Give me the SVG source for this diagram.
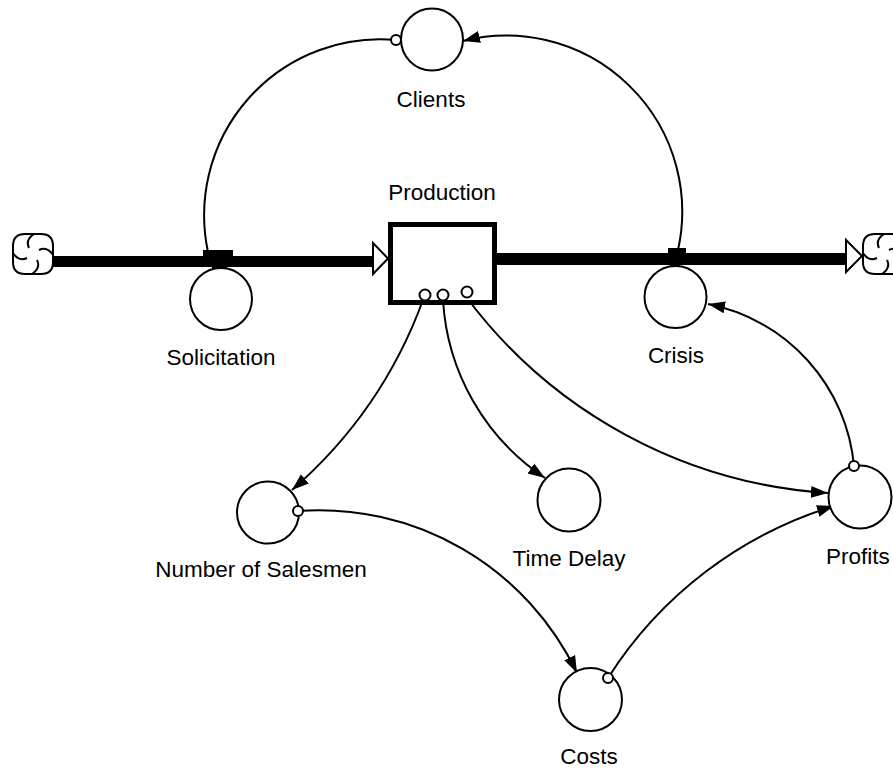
<svg xmlns="http://www.w3.org/2000/svg" width="893" height="771" viewBox="0 0 893 771">
<style>
  .aux { fill: #fff; stroke: #000; stroke-width: 2; }
  .lbl { font-family: "Liberation Sans", Arial, sans-serif; font-size: 22.5px; fill: #000; text-anchor: middle; }
  .con { fill: none; stroke: #000; stroke-width: 2; }
  .src { fill: #fff; stroke: #000; stroke-width: 2; }
  .pipe { fill: #000; }
  .tri { fill: #fff; stroke: #000; stroke-width: 2; stroke-linejoin: miter; }
  .cloud { fill: #fff; stroke: #000; stroke-width: 2; }
  .swirl { fill: none; stroke: #000; stroke-width: 2; }
</style>
<defs>
  <marker id="arr" markerWidth="18" markerHeight="14" refX="17" refY="7" orient="auto" markerUnits="userSpaceOnUse">
    <path d="M0,1 L17,7 L0,13 Z" fill="#000"/>
  </marker>
  <g id="cloudShape">
    <path class="cloud" d="M-8,-20 L8,-20 Q20,-20 20,-8 L20,8 Q20,20 8,20 L-8,20 Q-20,20 -20,8 L-20,-8 Q-20,-20 -8,-20 Z"/>
    <path class="swirl" d="M1,-20 Q-8,-14 -4,-6 M20,1 Q14,-8 6,-4 M-1,20 Q8,14 4,6 M-20,-1 Q-14,8 -6,4"/>
  </g>
</defs>
<rect width="893" height="771" fill="#fff"/>

<g id="connectors">
  <path class="con" d="M396,40 A176,176 0 0 0 208,252"/>
  <path class="con" marker-end="url(#arr)" d="M678,250 A176,176 0 0 0 463,41"/>
  <path class="con" marker-end="url(#arr)" d="M423,300 A462,462 0 0 1 292,490"/>
  <path class="con" marker-end="url(#arr)" d="M443,300 A230,230 0 0 0 545,478"/>
  <path class="con" marker-end="url(#arr)" d="M467,298 A490,490 0 0 0 828,493"/>
  <path class="con" marker-end="url(#arr)" d="M854,466 A182,182 0 0 0 708,304"/>
  <path class="con" marker-end="url(#arr)" d="M298,511 A286,286 0 0 1 577,673"/>
  <path class="con" marker-end="url(#arr)" d="M608,678 A410,410 0 0 1 834,506"/>
</g>

<g id="flow-solicitation">
  <use href="#cloudShape" x="33" y="254"/>
  <rect class="pipe" x="53" y="256" width="320" height="11"/>
  <polygon class="tri" points="373,243 373,274 388,258.5"/>
  <rect class="pipe" x="203" y="250" width="30" height="7"/>
  <rect class="pipe" x="212" y="266" width="15" height="5"/>
</g>

<g id="flow-crisis">
  <rect class="pipe" x="497" y="253" width="349" height="12"/>
  <polygon class="tri" points="846,240 846,272 862,256"/>
  <use href="#cloudShape" x="883" y="254"/>
  <rect class="pipe" x="668" y="248" width="18" height="6"/>
  <rect class="pipe" x="670" y="264" width="10" height="6"/>
</g>

<g id="production">
  <rect x="390.5" y="224.5" width="104" height="78" fill="#fff" stroke="#000" stroke-width="5"/>
  <circle class="src" cx="425" cy="295" r="5.5"/>
  <circle class="src" cx="443" cy="295" r="5.5"/>
  <circle class="src" cx="467" cy="292" r="5.5"/>
  <text class="lbl" x="442" y="200">Production</text>
</g>

<g id="clients">
  <circle class="aux" cx="432" cy="39.5" r="31"/>
  <circle class="src" cx="396" cy="40" r="5"/>
  <text class="lbl" x="431" y="107">Clients</text>
</g>

<g id="solicitation">
  <circle class="aux" cx="221" cy="299" r="31"/>
  <text class="lbl" x="221" y="365">Solicitation</text>
</g>

<g id="crisis">
  <circle class="aux" cx="675.5" cy="297" r="31"/>
  <text class="lbl" x="676" y="363">Crisis</text>
</g>

<g id="number-of-salesmen">
  <circle class="aux" cx="268" cy="512.5" r="31"/>
  <circle class="src" cx="298" cy="511" r="5"/>
  <text class="lbl" x="261" y="577">Number of Salesmen</text>
</g>

<g id="time-delay">
  <circle class="aux" cx="569" cy="500" r="31.5"/>
  <text class="lbl" x="569" y="566">Time Delay</text>
</g>

<g id="profits">
  <circle class="aux" cx="860" cy="497" r="31.5"/>
  <circle class="src" cx="854" cy="466" r="5"/>
  <text class="lbl" x="858" y="564">Profits</text>
</g>

<g id="costs">
  <circle class="aux" cx="590.5" cy="699.5" r="31.5"/>
  <circle class="src" cx="608" cy="678" r="5"/>
  <text class="lbl" x="589" y="764">Costs</text>
</g>
</svg>
